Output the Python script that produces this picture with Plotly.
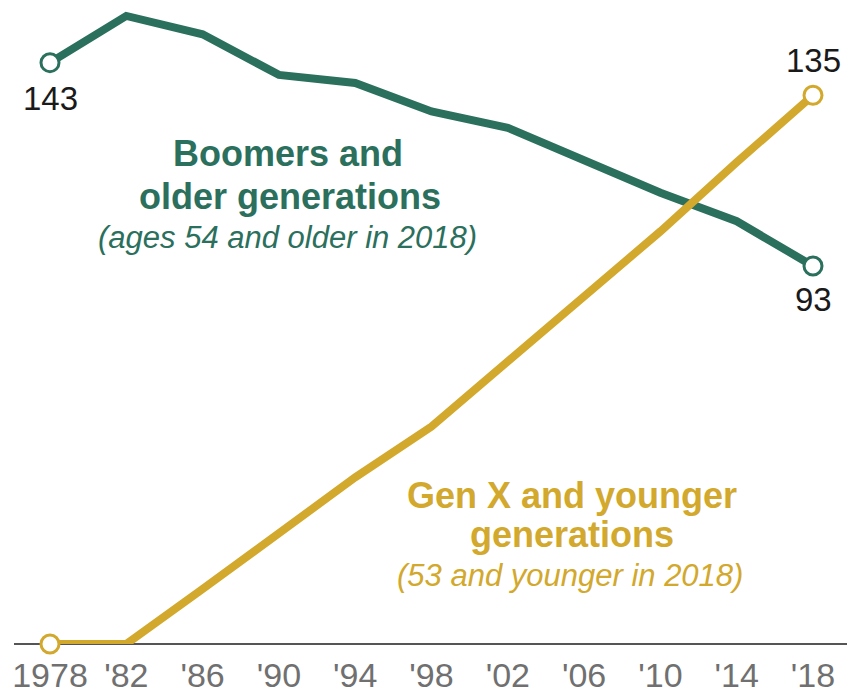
import plotly.graph_objects as go

years = [1978, 1982, 1986, 1990, 1994, 1998, 2002, 2006, 2010, 2014, 2018]
boomers = [143, 154.5, 150, 140, 138, 131, 127, 119, 111, 104, 93]
genx = [0, 0, 13.5, 27.5, 41, 53.5, 69.5, 85, 101.5, 118.5, 135]
tick_vals = [1978, 1982, 1986, 1990, 1994, 1998, 2002, 2006, 2010, 2014, 2018]
tick_text = ["1978", "'82", "'86", "'90", "'94", "'98", "'02", "'06", "'10", "'14", "'18"]

GREEN = "#2b6f5d"
GOLD = "#d2a82d"
W, H = 847, 699
L, R, T, B = 14, 0, 0, 55
PW, PH = W - L - R, H - T - B

def px_x(px):
    return (px - L) / PW

def px_y(py):
    return (H - B - py) / PH

fig = go.Figure()
for ys, col in [(boomers, GREEN), (genx, GOLD)]:
    fig.add_trace(go.Scatter(
        x=years, y=ys, mode="lines",
        line=dict(color=col, width=8),
        cliponaxis=False, hoverinfo="skip", showlegend=False,
    ))

# endpoint markers
for ys, col in [(boomers, GREEN), (genx, GOLD)]:
    fig.add_trace(go.Scatter(
        x=[years[0], years[-1]], y=[ys[0], ys[-1]], mode="markers",
        marker=dict(size=18, color="white", line=dict(color=col, width=3)),
        cliponaxis=False, hoverinfo="skip", showlegend=False,
    ))

label_font = dict(family="Liberation Sans", size=33, color="#1a1a1a")
for xv, yv, shift in [(years[0], boomers[0], -36), (years[-1], boomers[-1], -34),
                      (years[-1], genx[-1], 35)]:
    fig.add_annotation(x=xv, y=yv, xref="x", yref="y", text=f"{yv:.0f}",
                       showarrow=False, yshift=shift, xanchor="center", yanchor="middle",
                       font=label_font)

px_per_year = (813 - 50) / 40.0
x0 = 1978 - (50 - L) / px_per_year
x1 = 2018 + (W - R - 813) / px_per_year
px_per_unit = 4.065
y1 = (H - B - T) / px_per_unit

fig.update_xaxes(range=[x0, x1], tickmode="array", tickvals=tick_vals, ticktext=tick_text,
                 showgrid=False, zeroline=False, showline=False, ticks="", automargin=False,
                 ticklabelstandoff=8,
                 tickfont=dict(family="Liberation Sans", size=34, color="#707070"),
                 fixedrange=True)
fig.update_yaxes(range=[0, y1], showgrid=False, zeroline=True, zerolinecolor="#555555",
                 zerolinewidth=2, showticklabels=False, showline=False, ticks="",
                 automargin=False, fixedrange=True)

ann = [
    ("Boomers and", 288, 154, GREEN, 36, True, False),
    ("older generations", 290, 196, GREEN, 36, True, False),
    ("(ages 54 and older in 2018)", 287, 238, GREEN, 31, False, True),
    ("Gen X and younger", 572, 495, GOLD, 36, True, False),
    ("generations", 572, 534, GOLD, 36, True, False),
    ("(53 and younger in 2018)", 570, 575, GOLD, 31, False, True),
]
for txt, cx, cy, col, sz, bold, ital in ann:
    t = f"<b>{txt}</b>" if bold else (f"<i>{txt}</i>" if ital else txt)
    fig.add_annotation(x=px_x(cx), y=px_y(cy), xref="paper", yref="paper",
                       text=t, showarrow=False, xanchor="center", yanchor="middle",
                       font=dict(family="Liberation Sans", size=sz, color=col))

fig.update_layout(width=W, height=H, margin=dict(l=L, r=R, t=T, b=B, autoexpand=False),
                  paper_bgcolor="white", plot_bgcolor="white")
fig.write_html("out.html", config={"displayModeBar": False},
               post_script="document.body.style.margin='0';document.body.style.overflow='hidden';")
